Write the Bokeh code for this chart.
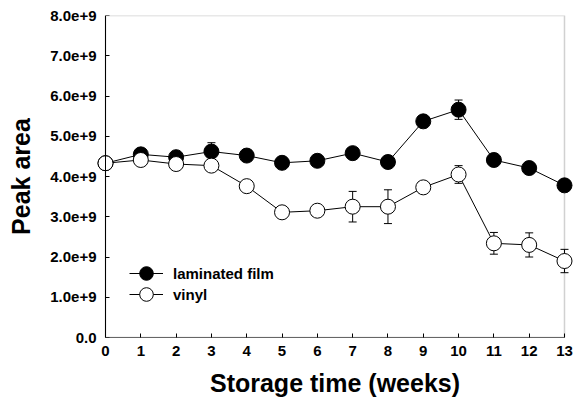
from bokeh.plotting import figure
from bokeh.models import (ColumnDataSource, Whisker, TeeHead, Legend, LegendItem, LinearAxis,
                          FixedTicker, CustomJSTickFormatter, BoxAnnotation, Range1d)
from bokeh.embed import file_html
from bokeh.resources import INLINE

weeks = [0, 1, 2, 3, 4, 5, 6, 7, 8, 9, 10, 11, 12, 13]
laminated = [4.33e9, 4.55e9, 4.48e9, 4.62e9, 4.52e9, 4.34e9, 4.39e9, 4.58e9, 4.36e9, 5.37e9, 5.66e9, 4.41e9, 4.21e9, 3.78e9]
laminated_err = [0.05e9, 0.1e9, 0.08e9, 0.22e9, 0.08e9, 0.08e9, 0.08e9, 0.1e9, 0.12e9, 0.1e9, 0.24e9, 0.1e9, 0.12e9, 0.1e9]
vinyl = [4.33e9, 4.41e9, 4.31e9, 4.27e9, 3.76e9, 3.11e9, 3.15e9, 3.25e9, 3.25e9, 3.73e9, 4.05e9, 2.34e9, 2.30e9, 1.90e9]
vinyl_err = [0.05e9, 0.1e9, 0.1e9, 0.1e9, 0.1e9, 0.1e9, 0.1e9, 0.38e9, 0.42e9, 0.1e9, 0.22e9, 0.27e9, 0.30e9, 0.29e9]
y_ticks = [0, 1e9, 2e9, 3e9, 4e9, 5e9, 6e9, 7e9, 8e9]

FONT = "Liberation Sans"

src_l = ColumnDataSource(dict(x=weeks, y=laminated,
                              lo=[v - e for v, e in zip(laminated, laminated_err)],
                              hi=[v + e for v, e in zip(laminated, laminated_err)]))
src_v = ColumnDataSource(dict(x=weeks, y=vinyl,
                              lo=[v - e for v, e in zip(vinyl, vinyl_err)],
                              hi=[v + e for v, e in zip(vinyl, vinyl_err)]))

p = figure(width=575, height=403, output_backend="svg", toolbar_location=None,
           x_range=Range1d(-0.255, 13.255), y_range=Range1d(0, 8e9),
           min_border_left=96, min_border_right=2, min_border_top=15, min_border_bottom=66)
p.outline_line_color = None
p.xgrid.visible = False
p.ygrid.visible = False

frame_box = BoxAnnotation(left=0, right=13, bottom=0, top=8e9, fill_alpha=0,
                          line_color="#666666", line_width=1.5, level="underlay")
p.add_layout(frame_box)


def style_labels(ax):
    ax.major_label_text_font = FONT
    ax.major_label_text_font_style = "bold"
    ax.major_label_text_font_size = "15px"
    ax.major_label_text_color = "black"
    ax.axis_label_text_font = FONT
    ax.axis_label_text_font_style = "bold"
    ax.axis_label_text_font_size = "25px"
    ax.axis_label_text_color = "black"
    ax.minor_tick_in = 0
    ax.minor_tick_out = 0


# bottom axis: line, inward ticks and labels
xa = p.xaxis[0]
style_labels(xa)
xa.bounds = (0, 13)
xa.ticker = FixedTicker(ticks=weeks)
xa.axis_line_color = "#666666"
xa.major_tick_in = 4
xa.major_tick_out = 0
xa.major_tick_line_color = "black"
xa.major_label_standoff = 8
xa.axis_label = "Storage time (weeks)"
xa.axis_label_standoff = 10

# left axis: labels only (sits at frame edge)
ya = p.yaxis[0]
style_labels(ya)
ya.bounds = (0, 8.4e9)
ya.ticker = FixedTicker(ticks=y_ticks)
ya.formatter = CustomJSTickFormatter(
    code="return tick == 0 ? '0.0' : (tick/1e9).toFixed(1) + 'e+9';")
ya.axis_line_color = None
ya.major_tick_line_color = None
ya.major_tick_in = 0
ya.major_tick_out = 0
ya.major_label_standoff = 0
ya.axis_label = "Peak area"
ya.axis_label_standoff = 12

# left axis line + inward ticks, placed at x = 0
ya_line = LinearAxis(fixed_location=0, bounds=(0, 8e9), ticker=FixedTicker(ticks=y_ticks),
                     axis_line_color="black", major_tick_line_color="black",
                     major_tick_in=4, major_tick_out=0, minor_tick_in=0, minor_tick_out=0,
                     major_label_text_font_size="0px", major_label_text_alpha=0)
p.add_layout(ya_line, "left")

w_l = Whisker(source=src_l, base="x", upper="hi", lower="lo", level="underlay",
              line_color="black", line_width=1,
              upper_head=TeeHead(size=8, line_color="black", line_width=1),
              lower_head=TeeHead(size=8, line_color="black", line_width=1))
w_v = Whisker(source=src_v, base="x", upper="hi", lower="lo", level="underlay",
              line_color="black", line_width=1,
              upper_head=TeeHead(size=8, line_color="black", line_width=1),
              lower_head=TeeHead(size=8, line_color="black", line_width=1))
p.add_layout(w_l)
p.add_layout(w_v)

ll = p.line("x", "y", source=src_l, line_color="black", line_width=1)
sl = p.scatter("x", "y", source=src_l, size=15, fill_color="black", line_color="black", line_width=1)
lv = p.line("x", "y", source=src_v, line_color="black", line_width=1)
sv = p.scatter("x", "y", source=src_v, size=15, fill_color="white", line_color="black", line_width=1)

legend_kw = dict(glyph_width=34, glyph_height=38, label_standoff=10, padding=0, margin=0,
                 border_line_color=None, background_fill_alpha=0,
                 label_text_font=FONT, label_text_font_style="bold",
                 label_text_font_size="15px", label_text_color="black")
leg1 = Legend(items=[LegendItem(label="laminated film", renderers=[ll, sl])],
              location=(33, 45), **legend_kw)
leg2 = Legend(items=[LegendItem(label="vinyl", renderers=[lv, sv])],
              location=(33, 24), **legend_kw)
p.add_layout(leg1)
p.add_layout(leg2)

open("out.html", "w").write(file_html(p, INLINE))
